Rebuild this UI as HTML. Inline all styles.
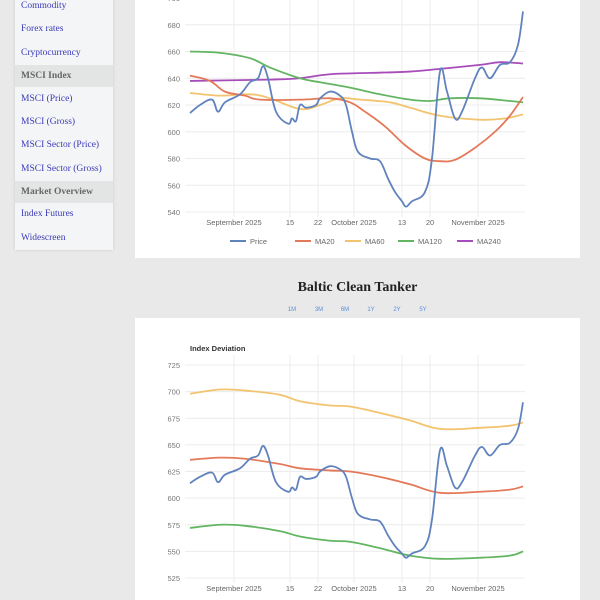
<!DOCTYPE html>
<html><head><meta charset="utf-8">
<style>
html,body{margin:0;width:600px;height:600px;overflow:hidden}
body{background:#e9e9e9;position:relative;font-family:"Liberation Sans",sans-serif}
.side{position:absolute;left:15px;top:-5px;width:98px;height:255px;background:#f4f5f6;box-shadow:0 0 3px #ccc}
.side div{position:absolute;left:0;width:98px;height:22px;line-height:22px;padding-left:6px;box-sizing:border-box;font-family:"Liberation Serif",serif;font-size:9.5px;color:#3a3ab8}
.side div.h{background:#e3e5e5;color:#666;font-weight:bold}
.card{position:absolute;left:135px;width:445px;background:#fff}
svg text{font-family:"Liberation Sans",sans-serif}
.title{position:absolute;left:135px;width:445px;top:280px;text-align:center;font-family:"Liberation Serif",serif;font-weight:bold;font-size:14px;color:#222}
.btns{position:absolute;top:307px;left:280px;font-size:6px;color:#5a8fd8}
.btns span{position:absolute;width:20px;text-align:center}
</style></head><body>
<div class="side">
<div style="top:0">Commodity</div>
<div style="top:23px">Forex rates</div>
<div style="top:47px">Cryptocurrency</div>
<div class="h" style="top:70px">MSCI Index</div>
<div style="top:93px">MSCI (Price)</div>
<div style="top:116px">MSCI (Gross)</div>
<div style="top:139px">MSCI Sector (Price)</div>
<div style="top:163px">MSCI Sector (Gross)</div>
<div class="h" style="top:186px">Market Overview</div>
<div style="top:208px">Index Futures</div>
<div style="top:232px">Widescreen</div>
</div>
<div class="card" style="top:0;height:258px"><svg id="c1" width="445" height="258"></svg></div>
<div class="title">Baltic Clean Tanker</div>
<div class="btns">
<span style="left:2px">1M</span>
<span style="left:29px">3M</span>
<span style="left:55px">6M</span>
<span style="left:81px">1Y</span>
<span style="left:107px">2Y</span>
<span style="left:133px">5Y</span>
</div>
<div class="card" style="top:318px;height:282px"><svg id="c2" width="445" height="282"></svg></div>
<script>
const priceDays=[0,2.5,5.5,7,8.75,12.5,15,17,18.25,19.5,21.5,24.5,25.5,26.5,27.5,29,31.5,32.5,35,37.5,39,40.5,42,45,47.5,49.5,51.25,53,54,55.5,58.75,60.5,62.5,64.25,66.25,68,71.25,73,75,77.5,80,82,83.25];
const priceVals=[614,620,624,615,622,628,637,640,649,640,615,606,610,608,620,618,620,625,630,627,620,600,585,580,578,565,555,548,544,548,555,580,645,630,610,615,640,648,640,650,652,665,690];
const xTickDays=[11,25,32,41,53,60,72];
const xTickLabels=["September 2025","15","22","October 2025","13","20","November 2025"];
const ma20Days=[0,5,8.75,13.75,17.5,27.5,35,40,43.75,48.75,53.75,58.75,62.5,66.25,71.25,76.25,80,83.25];
const ma20Vals=[642,638,630,627,624,624,625,622,615,604,590,580,578,579,588,600,612,626];
const ma60Days=[0,7.5,15,20,27.5,32.5,37.5,42.5,50,55,62.5,72.5,78.75,83.25];
const ma60Vals=[629,627,628,625,617,620,625,624,622,618,612,609,610,613];
const ma120Days=[0,7.5,15,20,27.5,32.5,40,47.5,55,60,65,72.5,80,83.25];
const ma120Vals=[660,659,655,648,640,637,633,628,624,623,625,625,623,622];
const ma240Days=[0,20,27.5,35,45,55,62.5,72.5,77.5,83.25];
const ma240Vals=[638,639,640,643,644,645,647,650,652,651];
const topYTicks=[540,560,580,600,620,640,660,680,700];
const devDays=[0,7.5,13.75,22.5,27.5,35,40,47.5,55,62.5,72.5,80,83.25];
const upperVals=[698,702,701,697,691,687,686,680,673,665,666,668,671];
const midVals=[636,638,637,632,628,626,625,620,613,605,606,608,611];
const lowerVals=[572,575,574,569,564,560,559,553,546,543,544,546,550];
const botYTicks=[525,550,575,600,625,650,675,700,725];
const C={price:"#6183bd",ma20:"#e4795a",ma60:"#f2c46f",ma120:"#63b562",ma240:"#a74dba"};
const NS="http://www.w3.org/2000/svg";
function mk(svg,tag,attrs){const e=document.createElementNS(NS,tag);for(const k in attrs)e.setAttribute(k,attrs[k]);svg.appendChild(e);return e;}
function path(xs,ys,sx,sy){
  const P=xs.map((x,i)=>[sx(x),sy(ys[i])]);const t=0.18;
  let d="M"+P[0][0]+","+P[0][1];
  for(let i=0;i<P.length-1;i++){
    const p0=P[Math.max(0,i-1)],p1=P[i],p2=P[i+1],p3=P[Math.min(P.length-1,i+2)];
    const c1x=p1[0]+(p2[0]-p0[0])*t,c1y=p1[1]+(p2[1]-p0[1])*t;
    const c2x=p2[0]-(p3[0]-p1[0])*t,c2y=p2[1]-(p3[1]-p1[1])*t;
    d+=" C"+c1x+","+c1y+" "+c2x+","+c2y+" "+p2[0]+","+p2[1];
  }
  return d;}
function chart(id,yTicks,yMin,yMax,yTop,yBot,series){
  const svg=document.getElementById(id);
  const sx=d=>55+d*4.0;
  const sy=v=>yBot-(v-yMin)/(yMax-yMin)*(yBot-yTop);
  yTicks.forEach(t=>{
    const g=mk(svg,"line",{x1:50,x2:390,y1:sy(t),y2:sy(t),stroke:"#ececec","stroke-width":1});
    
    
    const tx=mk(svg,"text",{x:45,y:sy(t)+3,"text-anchor":"end","font-size":7.5,fill:"#777"});tx.textContent=t;
    
    
  });
  xTickDays.forEach((d,i)=>{
    const g=mk(svg,"line",{x1:sx(d),x2:sx(d),y1:yTop-10,y2:yBot+5,stroke:"#ececec","stroke-width":1});
    
    
    const tx=mk(svg,"text",{x:sx(d),y:yBot+13,"text-anchor":"middle","font-size":7.5,fill:"#666"});tx.textContent=xTickLabels[i];
    
    
  });
  series.forEach(s=>{
    const p=mk(svg,"path",{d:path(s[0],s[1],sx,sy),fill:"none",stroke:s[2],"stroke-width":1.8,"stroke-linejoin":"round"});
    
    
  });
}
chart("c1",topYTicks,540,700,-2,212,[
 [ma240Days,ma240Vals,C.ma240,"ma240-line"],[ma120Days,ma120Vals,C.ma120,"ma120-line"],[ma60Days,ma60Vals,C.ma60,"ma60-line"],[ma20Days,ma20Vals,C.ma20,"ma20-line"],[priceDays,priceVals,C.price,"price-line"]]);
chart("c2",botYTicks,525,725,47,260,[
 [devDays,upperVals,C.ma60,"upper-band-line"],[devDays,midVals,C.ma20,"mid-band-line"],[devDays,lowerVals,C.ma120,"lower-band-line"],[priceDays,priceVals,C.price,"price-line"]]);
const legNames=["Price","MA20","MA60","MA120","MA240"];
const legCols=[C.price,C.ma20,C.ma60,C.ma120,C.ma240];
const legX=[95,160,210,263,322];
const s1=document.getElementById("c1");
legNames.forEach((n,i)=>{
  const l=mk(s1,"line",{x1:legX[i],x2:legX[i]+16,y1:241,y2:241,stroke:legCols[i],"stroke-width":2});
  
  
  const t=mk(s1,"text",{x:legX[i]+20,y:244,"font-size":7.5,fill:"#666"});t.textContent=n;
  
  
});
const s2=document.getElementById("c2");
const tt=mk(s2,"text",{x:55,y:33,"font-size":7.5,"font-weight":"bold",fill:"#333"});tt.textContent="Index Deviation";


</script>
</body></html>
